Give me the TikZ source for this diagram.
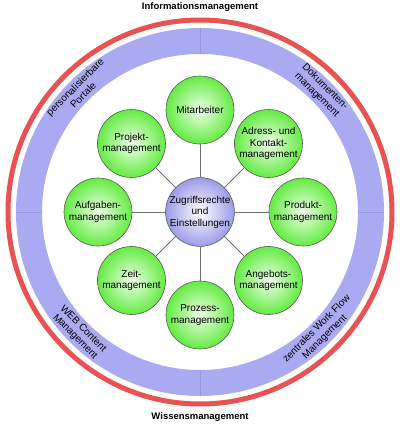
\documentclass[tikz,border=0pt]{standalone}
\usepackage{fontspec}
\setmainfont{Liberation Sans}
\usepackage{xcolor}
\usepackage{tikz}
\usetikzlibrary{positioning}
\definecolor{ringblue}{RGB}{170,170,242}
\definecolor{ringdiv}{RGB}{150,150,225}
\definecolor{ringred}{RGB}{232,82,82}
\definecolor{grnedge}{RGB}{100,235,66}
\definecolor{grnmid}{RGB}{238,255,232}
\definecolor{lavedge}{RGB}{155,155,232}
\definecolor{rim}{RGB}{88,88,88}
\definecolor{conn}{RGB}{112,112,112}

\begin{document}
\begin{tikzpicture}[
  modul/.style={circle, draw=rim, line width=0.6pt, inner sep=0pt, minimum size=68pt,
    align=center, inner color=grnmid, outer color=grnedge, font=\fontsize{10}{11.5}\selectfont},
  kern/.style={modul, inner color=white, outer color=lavedge},
  ringtext/.style={align=center, font=\fontsize{10}{11.5}\selectfont},
  titel/.style={font=\fontsize{9.5}{11}\selectfont\bfseries},
  verbind/.style={draw=conn, line width=0.8pt}]
  \useasboundingbox (-200pt,-212pt) rectangle (200pt,212pt);
  % outer red ring
  \draw[ringred, line width=5pt] (0,0) circle (192pt);
  % blue band with quadrant dividers
  \fill[ringblue, even odd rule] (0,0) circle (184pt) circle (158pt);
  \foreach \a in {0,90,180,270}{\draw[ringdiv, line width=0.7pt] (\a:158pt) -- (\a:184pt);}
  % band labels
  \node[ringtext, rotate=45]  (portal) at (135:171pt) {personalisierbare\\Portale};
  \node[ringtext, rotate=-45] (dok)    at (45:171pt)  {Dokumenten-\\management};
  \node[ringtext, rotate=-45] (web)    at (225:171pt) {WEB Content\\Management};
  \node[ringtext, rotate=45]  (wf)     at (315:171pt) {zentrales Work Flow\\Management};
  % titles
  \node[titel] (info) at (0,205pt)  {Informationsmanagement};
  \node[titel] (wiss) at (0,-205pt) {Wissensmanagement};
  % hub and modules
  \node[kern]  (zug)  at (0,0)              {Zugriffsrechte\\und\\Einstellungen};
  \node[modul] (mit)  at (0,102pt)          {Mitarbeiter};
  \node[modul] (adr)  at (68.5pt,68.5pt)    {Adress- und\\Kontakt-\\management};
  \node[modul] (prod) at (103pt,0)          {Produkt-\\management};
  \node[modul] (ang)  at (68.5pt,-68.5pt)   {Angebots-\\management};
  \node[modul] (proz) at (0,-103pt)         {Prozess-\\management};
  \node[modul] (zeit) at (-68.5pt,-68.5pt)  {Zeit-\\management};
  \node[modul] (aufg) at (-102pt,0)         {Aufgaben-\\management};
  \node[modul] (proj) at (-68.5pt,68.5pt)   {Projekt-\\management};
  \foreach \n in {mit,adr,prod,ang,proz,zeit,aufg,proj}{\draw[verbind] (zug) -- (\n);}
\end{tikzpicture}
\end{document}
